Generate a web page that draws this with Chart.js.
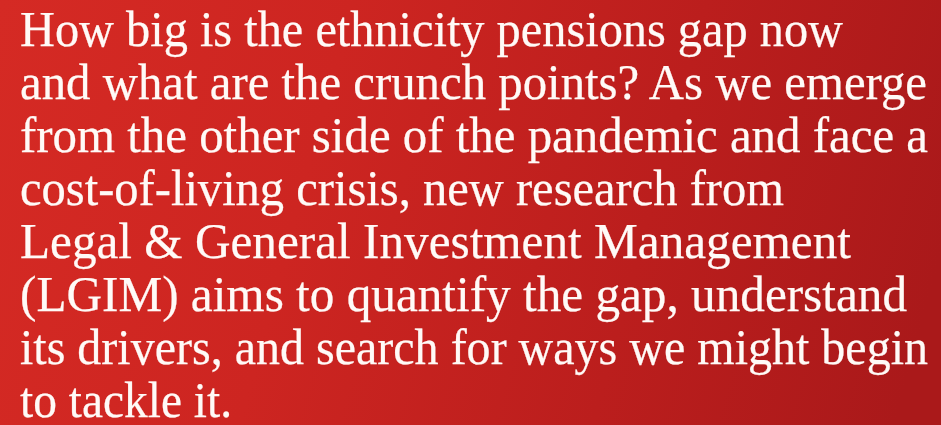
<!DOCTYPE html>
<html>
<head>
<meta charset="utf-8">
<script src="https://cdn.jsdelivr.net/npm/chart.js@4"></script>
<style>
  html, body { margin: 0; padding: 0; width: 941px; height: 425px; overflow: hidden; }
  #wrap { position: relative; width: 941px; height: 425px; }
  #bg { position: absolute; left: 0; top: 0; }
  .ln { position: absolute; left: 20px; white-space: nowrap; color: #fffaf7;
        font-family: "Liberation Serif", "Times New Roman", serif; font-size: 50px;
        line-height: 60px; transform-origin: 0 0; -webkit-text-stroke: 0.25px #fffaf7; }
  .mk { display: inline-block; width: 0; height: 0; vertical-align: baseline; }
</style>
</head>
<body>
<div id="wrap">
  <canvas id="bg" width="941" height="425"></canvas>
</div>
<script>
// Text lines of the reference (the "chart" is a pull-quote panel)
const lines = [
  "How big is the ethnicity pensions gap now",
  "and what are the crunch points? As we emerge",
  "from the other side of the pandemic and face a",
  "cost-of-living crisis, new research from",
  "Legal & General Investment Management",
  "(LGIM) aims to quantify the gap, understand",
  "its drivers, and search for ways we might begin",
  "to tackle it."
];
// layout (styles): baseline y and right edge x of each line
const baselines = [46, 99, 152, 205, 258, 311, 364, 417];
const rightEdges = [843, 927, 928, 784, 851, 907, 928, 232];
const leftX = 20;

const bgPlugin = {
  id: 'redPanel',
  beforeDraw(chart) {
    const c = chart.ctx, w = chart.width, h = chart.height;
    const g = c.createLinearGradient(0, 0, w, h * 0.6);
    g.addColorStop(0, '#d52a24');
    g.addColorStop(0.35, '#cd2521');
    g.addColorStop(0.7, '#bb1e1d');
    g.addColorStop(1, '#aa191a');
    c.save();
    c.fillStyle = g;
    c.fillRect(0, 0, w, h);
    c.restore();
  }
};

new Chart(document.getElementById('bg'), {
  type: 'bar',
  data: { labels: [], datasets: [] },
  options: {
    responsive: false,
    animation: false,
    events: [],
    layout: { padding: 0 },
    plugins: { legend: { display: false }, tooltip: { enabled: false }, title: { display: false } },
    scales: { x: { display: false }, y: { display: false } }
  },
  plugins: [bgPlugin]
});

const wrap = document.getElementById('wrap');
lines.forEach((t, i) => {
  const d = document.createElement('div');
  d.className = 'ln';
  d.style.top = '0px';
  d.textContent = t;
  const mk = document.createElement('span');
  mk.className = 'mk';
  d.appendChild(mk);
  wrap.appendChild(d);
  const wrapTop = wrap.getBoundingClientRect().top;
  const base = mk.getBoundingClientRect().top - wrapTop;
  const range = document.createRange();
  range.selectNodeContents(d.firstChild);
  const w = range.getBoundingClientRect().width;
  const sx = (rightEdges[i] - leftX) / w;
  d.style.top = (baselines[i] - base) + 'px';
  d.style.transform = 'scaleX(' + sx + ')';
});
</script>
</body>
</html>
